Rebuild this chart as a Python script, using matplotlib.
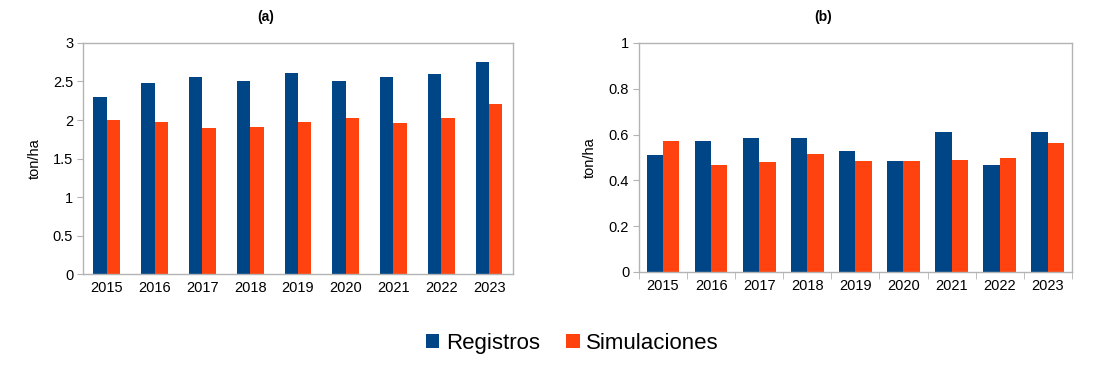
import numpy as np
import matplotlib.pyplot as plt

plt.rcParams['font.family'] = ['Liberation Sans', 'DejaVu Sans']

years = ['2015', '2016', '2017', '2018', '2019', '2020', '2021', '2022', '2023']
reg_a = [2.30, 2.48, 2.56, 2.505, 2.61, 2.505, 2.56, 2.60, 2.75]
sim_a = [2.00, 1.98, 1.90, 1.91, 1.97, 2.03, 1.96, 2.03, 2.21]
reg_b = [0.51, 0.57, 0.583, 0.583, 0.53, 0.483, 0.609, 0.469, 0.609]
sim_b = [0.57, 0.467, 0.478, 0.513, 0.485, 0.485, 0.488, 0.497, 0.561]

blue = '#004586'
red = '#ff420e'
grey = '#b3b3b3'

fig = plt.figure(figsize=(11.2, 3.67), dpi=100)
ax_a = fig.add_axes([0.074, 0.253, 0.384, 0.630])
ax_b = fig.add_axes([0.5705, 0.259, 0.3865, 0.624])

x = np.arange(len(years))


def style(ax, ymax, step, boundary_ticks):
    ax.set_xlim(-0.5, len(years) - 0.5)
    ax.set_ylim(0, ymax)
    ax.set_yticks(np.arange(0, ymax + step / 2, step))
    ax.set_yticklabels(['%g' % v for v in np.arange(0, ymax + step / 2, step)])
    ax.set_xticks(x)
    ax.set_xticklabels(years)
    ax.tick_params(axis='x', length=0, labelsize=10.5, pad=5)
    ax.tick_params(axis='y', length=4, color=grey, labelsize=10.5, pad=3)
    if boundary_ticks:
        ax.set_xticks(np.arange(-0.5, len(years)), minor=True)
        ax.tick_params(axis='x', which='minor', length=5, color=grey)
    for s in ax.spines.values():
        s.set_color(grey)
        s.set_linewidth(1)
    ax.set_ylabel('ton/ha', fontsize=10.5)


bw = 0.28
ax_a.bar(x - bw / 2, reg_a, bw, color=blue, label='Registros')
ax_a.bar(x + bw / 2, sim_a, bw, color=red, label='Simulaciones')
style(ax_a, 3, 0.5, False)
ax_a.yaxis.set_label_coords(-0.095, 0.5)

bw = 0.34
ax_b.bar(x - bw / 2, reg_b, bw, color=blue)
ax_b.bar(x + bw / 2, sim_b, bw, color=red)
style(ax_b, 1, 0.2, True)
ax_b.yaxis.set_label_coords(-0.098, 0.5)

fig.text(0.2375, 0.953, '(a)', ha='center', va='center', fontsize=10, fontweight='bold')
fig.text(0.735, 0.953, '(b)', ha='center', va='center', fontsize=10, fontweight='bold')

handles, labels = ax_a.get_legend_handles_labels()
fig.legend(handles, labels, loc='center', bbox_to_anchor=(0.511, 0.065), ncol=2,
           frameon=False, fontsize=16, handlelength=0.6, handleheight=0.6,
           handletextpad=0.3, columnspacing=1.2)

fig.savefig('out.png', dpi=100)
